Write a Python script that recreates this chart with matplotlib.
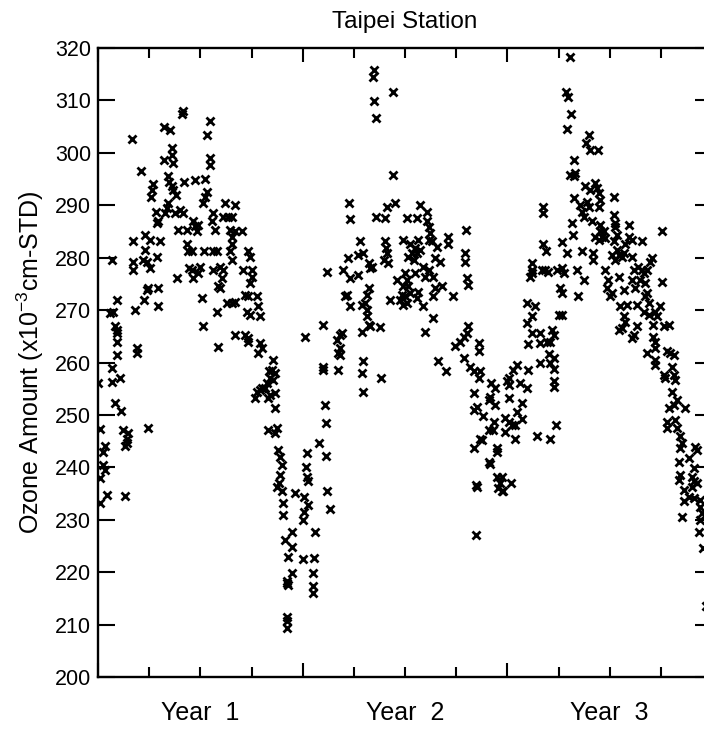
import matplotlib
matplotlib.use("Agg")
import matplotlib.pyplot as plt
from matplotlib.ticker import MultipleLocator

plt.rcParams['font.family'] = ['Liberation Sans', 'DejaVu Sans']
plt.rcParams['mathtext.default'] = 'regular'

# (month since start, ozone amount) pairs
year1_points = [
    (4.95, 307.4), (5.00, 308.0), (6.57, 306.0), (6.37, 303.4), (3.89, 305.0), (4.22, 304.4),
    (2.01, 302.6), (4.32, 300.9), (4.32, 299.6), (4.42, 298.0), (3.89, 298.6), (6.57, 299.0),
    (6.57, 297.7), (2.52, 296.6), (4.09, 295.6), (4.16, 294.5), (5.06, 294.5), (5.69, 294.8),
    (6.28, 295.1), (3.25, 294.1), (3.19, 292.9), (3.11, 291.6), (4.42, 292.9), (4.55, 292.0),
    (4.32, 293.6), (6.37, 292.6), (6.28, 291.6), (6.18, 290.4), (3.38, 288.8), (3.50, 286.9),
    (3.44, 286.6), (3.93, 288.5), (4.03, 289.4), (4.12, 290.4), (4.52, 288.5), (4.81, 289.1),
    (5.00, 288.5), (4.67, 285.3), (5.20, 285.3), (5.59, 286.9), (5.69, 286.0), (5.79, 285.0),
    (5.88, 286.3), (6.76, 288.5), (6.67, 286.9), (6.86, 285.3), (7.45, 290.4), (8.04, 290.1),
    (7.35, 287.8), (7.64, 287.8), (7.84, 287.8), (7.74, 285.3), (7.84, 284.0), (8.43, 285.0),
    (8.04, 285.0), (7.84, 282.7), (2.07, 283.1), (2.76, 284.3), (3.05, 283.4), (3.64, 283.1),
    (2.76, 281.5), (2.66, 279.6), (2.86, 279.2), (3.44, 280.2), (3.05, 278.0), (0.84, 279.6),
    (2.07, 279.2), (2.07, 277.7), (5.20, 282.7), (5.30, 281.2), (5.49, 281.2), (6.24, 281.2),
    (6.76, 281.2), (6.96, 281.2), (5.36, 278.0), (5.49, 277.7), (5.59, 276.1), (5.98, 278.3),
    (5.88, 277.0), (6.76, 277.7), (7.16, 278.3), (7.35, 277.7), (7.25, 276.1), (7.06, 274.5),
    (7.16, 274.2), (7.74, 281.2), (7.84, 279.6), (8.82, 281.2), (8.92, 280.2), (8.52, 277.7),
    (9.01, 277.7), (9.01, 276.4), (8.91, 275.1), (4.61, 276.1), (2.95, 274.2), (2.86, 273.9),
    (3.54, 274.2), (2.72, 271.9), (2.17, 270.0), (3.54, 270.7), (1.09, 271.9), (6.08, 272.3),
    (8.62, 272.9), (8.82, 272.6), (9.31, 272.6), (9.40, 270.7), (7.55, 271.3), (7.84, 271.3),
    (8.04, 271.6), (6.96, 269.7), (8.72, 269.7), (8.92, 269.1), (9.50, 268.8), (0.70, 269.4),
    (0.90, 269.7), (1.00, 266.9), (1.09, 266.2), (1.09, 265.6), (6.18, 266.9), (8.04, 265.3),
    (8.62, 265.3), (8.82, 264.6),
    (1.09, 264.0), (2.27, 262.7), (2.27, 261.8), (1.09, 261.4), (7.06, 262.9), (8.82, 264.0),
    (9.50, 263.7), (9.60, 262.7), (9.40, 261.8), (10.28, 260.5), (0.84, 258.9), (1.29, 257.0),
    (0.80, 256.2), (0.02, 256.0), (10.00, 258.3), (10.19, 258.6), (10.38, 258.0), (10.09, 257.0),
    (10.28, 256.7), (9.89, 256.0), (9.60, 255.1), (9.31, 254.4), (9.21, 253.2), (10.09, 253.8),
    (9.99, 253.2), (10.38, 254.1), (10.38, 251.3), (9.80, 255.1), (9.50, 254.8), (1.00, 252.2),
    (1.35, 250.8), (0.12, 247.3), (1.49, 247.1), (1.78, 246.5), (1.68, 245.5), (1.68, 244.6),
    (1.58, 244.1), (2.95, 247.5), (9.99, 247.1), (10.48, 247.5), (10.38, 246.6), (0.41, 244.0),
    (0.31, 243.0), (0.31, 240.5), (0.41, 239.5), (0.12, 237.9), (0.51, 234.7), (0.12, 233.2),
    (1.58, 234.5), (10.58, 243.3), (10.67, 242.0), (10.77, 240.5), (10.67, 238.5), (10.48, 236.3),
    (10.77, 235.4), (10.60, 237.0), (10.87, 233.2), (10.87, 230.9), (11.55, 235.1), (11.36, 227.7),
    (10.97, 226.2), (11.36, 224.8), (11.16, 222.9), (11.36, 219.8), (11.07, 217.9), (11.16, 217.6),
    (11.10, 218.3), (11.07, 211.5), (11.07, 210.6), (11.07, 209.3),
]

year2_points = [
    (16.19, 315.8), (16.15, 314.5), (17.32, 311.7), (16.19, 309.8), (16.29, 306.6), (17.32, 295.8),
    (14.74, 290.4), (14.78, 287.4), (16.97, 289.7), (17.42, 290.4), (16.31, 287.8), (16.84, 287.5),
    (18.10, 287.5), (18.69, 287.5), (18.89, 290.1), (19.28, 288.8), (19.28, 286.9), (19.38, 285.9),
    (19.47, 284.7), (19.38, 283.4), (19.57, 283.1), (21.59, 285.3), (15.37, 283.1), (15.27, 280.5),
    (15.56, 280.8), (16.84, 283.1), (16.89, 281.8), (16.93, 280.8), (16.74, 279.6), (17.03, 278.9),
    (17.91, 283.4), (18.30, 282.7), (18.60, 281.8), (18.79, 283.4), (18.69, 280.8), (18.50, 279.6),
    (18.20, 280.2), (18.89, 281.5), (18.40, 280.8), (19.87, 282.1), (19.77, 279.9), (20.06, 279.2),
    (20.55, 284.0), (20.55, 282.7), (21.53, 280.8), (21.53, 279.2), (21.63, 276.1), (21.72, 274.8),
    (14.68, 279.9), (13.41, 277.2), (14.39, 277.7), (14.78, 276.1), (15.27, 276.7), (15.86, 278.9),
    (15.96, 278.0), (16.05, 278.3), (17.52, 275.8), (18.00, 277.0), (18.10, 275.8), (18.20, 274.5),
    (17.91, 274.5), (18.60, 277.0), (19.18, 276.4), (19.38, 277.7), (19.08, 278.3), (19.67, 276.4),
    (19.77, 274.2), (19.67, 272.6), (20.16, 274.5), (20.84, 272.6), (15.86, 274.2), (15.76, 272.9),
    (15.66, 271.3), (15.76, 270.0), (15.76, 268.8), (15.86, 267.2), (15.47, 271.0), (14.78, 270.7),
    (14.49, 272.6), (14.59, 272.9), (17.13, 271.9), (17.71, 271.9), (17.91, 271.0), (18.10, 271.3),
    (18.00, 272.6), (17.81, 272.9), (18.30, 273.2), (18.79, 273.5), (18.69, 272.3), (19.08, 270.7),
    (19.67, 268.4), (16.54, 266.7), (15.96, 266.9), (15.47, 265.9), (19.18, 265.9), (12.14, 264.9),
    (13.22, 267.2), (14.00, 264.3), (14.20, 265.3), (14.29, 265.6), (21.23, 264.0), (21.43, 264.9),
    (21.63, 265.6), (21.72, 266.9),
    (14.16, 262.7), (14.10, 261.8), (14.20, 261.4), (13.22, 259.2), (13.22, 258.6), (14.10, 258.5),
    (15.53, 260.2), (15.47, 258.0), (15.56, 254.3), (16.58, 257.0), (13.32, 251.9), (13.37, 248.4),
    (12.98, 244.6), (12.24, 242.8), (13.36, 242.2), (12.20, 240.1), (12.28, 238.2), (12.34, 237.3),
    (13.41, 235.4), (12.05, 234.4), (12.34, 232.8), (12.08, 231.4), (12.00, 230.0), (13.61, 232.0),
    (12.73, 227.6), (12.00, 222.5), (12.67, 222.7), (12.59, 219.8), (12.63, 217.3), (12.63, 216.0),
    (20.94, 263.2), (22.31, 263.7), (22.31, 262.1), (19.96, 260.2), (20.41, 258.3), (21.43, 260.8),
    (21.82, 259.2), (22.02, 258.3), (22.41, 258.3), (22.31, 257.0), (22.02, 254.1), (22.02, 250.9),
    (22.21, 251.6), (22.56, 249.7), (23.03, 256.0), (23.29, 255.1), (22.99, 253.5), (22.90, 252.9),
    (23.29, 251.9), (23.19, 248.7), (23.15, 247.1), (22.90, 247.1), (22.50, 245.2), (22.41, 245.5),
    (22.02, 243.6), (23.38, 243.6), (23.38, 243.0), (22.90, 241.1), (23.00, 240.7), (22.17, 236.6),
    (22.20, 236.2), (23.38, 238.2), (23.58, 237.0), (23.48, 236.0), (23.68, 235.4), (22.17, 227.1),
]

year3_points = [
    (27.65, 318.2), (27.45, 311.7), (27.53, 310.7), (27.74, 307.4), (27.49, 304.5), (28.76, 303.4),
    (28.62, 301.8), (28.86, 300.5), (29.29, 300.5), (27.92, 298.6), (27.69, 295.8), (27.88, 295.5),
    (27.98, 296.1), (28.57, 293.6), (28.86, 292.9), (29.15, 294.2), (29.25, 293.2), (29.35, 292.3),
    (30.23, 291.6), (27.92, 291.3), (28.27, 290.1), (28.66, 290.7), (28.76, 289.7), (29.45, 291.0),
    (29.35, 289.7), (28.37, 288.8), (28.47, 287.8), (28.96, 286.9), (29.45, 286.2), (29.64, 285.0),
    (26.08, 289.7), (26.12, 288.5), (30.23, 288.1), (30.33, 286.6), (30.33, 285.9), (31.11, 286.2),
    (31.11, 284.0), (33.06, 285.0), (27.78, 286.6), (27.84, 284.3), (29.15, 284.0), (29.35, 283.4),
    (29.54, 284.0), (29.74, 283.7), (30.42, 284.3), (30.23, 283.1), (30.91, 282.7), (31.30, 283.4),
    (31.89, 283.1), (29.45, 285.0), (26.08, 282.7), (26.28, 281.3), (27.20, 282.9), (27.49, 280.8),
    (28.37, 281.2), (29.05, 280.8), (29.05, 279.6), (30.13, 280.5), (30.42, 281.5), (30.52, 280.5),
    (30.72, 280.2), (30.82, 280.8), (31.30, 280.2), (30.33, 279.6), (32.48, 279.9), (25.44, 278.9),
    (25.44, 277.7), (25.44, 277.0), (25.34, 276.4), (26.02, 277.7), (26.22, 277.7), (26.41, 277.3),
    (26.90, 277.7), (27.20, 278.0), (27.30, 277.0), (27.10, 274.2), (27.20, 273.2), (28.08, 277.7),
    (28.47, 275.8), (28.17, 272.7), (29.74, 277.7), (29.93, 275.8), (29.84, 274.2), (30.03, 272.6),
    (30.13, 273.2), (30.52, 276.4), (30.82, 273.8), (31.40, 277.7), (31.30, 275.8), (31.50, 274.2),
    (31.69, 278.3), (31.89, 277.7), (31.99, 277.0), (32.18, 277.7), (32.38, 279.2), (31.79, 275.8),
    (32.08, 275.1), (33.06, 275.4), (32.18, 273.2), (32.08, 272.6), (32.28, 271.3), (25.14, 271.3),
    (25.63, 270.7), (25.44, 268.8), (25.14, 267.5), (25.44, 265.6), (25.93, 265.7), (26.61, 266.2),
    (26.71, 265.3), (26.51, 264.0), (27.00, 269.1), (27.20, 269.1), (30.62, 270.7), (31.01, 271.0),
    (30.82, 268.8), (30.91, 267.8), (30.72, 266.6), (30.52, 266.2), (31.60, 271.0), (31.99, 269.7),
    (32.28, 269.1), (32.67, 269.7), (32.77, 268.8), (32.96, 270.7), (32.57, 267.2), (33.16, 266.9),
    (33.45, 267.2), (31.60, 266.9), (31.40, 265.3), (31.30, 264.6), (32.57, 264.9), (32.67, 264.0),
    (25.24, 263.5), (25.93, 263.7), (26.32, 264.0),
    (26.47, 261.6), (26.71, 260.8), (25.93, 260.0), (26.51, 259.9), (26.71, 258.7), (26.71, 256.4),
    (26.71, 255.4), (24.56, 259.5), (24.36, 258.5), (24.07, 257.0), (23.97, 256.4), (24.07, 255.7),
    (24.75, 256.0), (25.14, 255.1), (25.24, 258.6), (24.07, 253.2), (24.85, 252.2), (24.56, 250.6),
    (23.87, 249.4), (24.07, 248.7), (24.26, 248.1), (24.46, 248.1), (24.85, 249.2), (23.87, 246.8),
    (24.46, 245.5), (25.73, 245.9), (26.51, 245.4), (26.86, 248.1), (23.68, 238.2), (23.74, 235.4),
    (24.21, 237.0), (32.18, 261.8), (32.67, 262.7), (32.67, 260.5), (32.67, 259.5), (33.36, 262.1),
    (33.55, 261.8), (33.75, 261.4), (33.65, 259.2), (33.16, 257.6), (33.26, 257.0), (33.75, 257.6),
    (33.84, 256.7), (33.65, 254.4), (33.94, 252.9), (33.45, 251.3), (33.75, 251.9), (34.43, 251.3),
    (33.36, 248.7), (33.36, 247.5), (33.84, 249.0), (33.94, 247.5), (34.14, 245.9), (34.24, 244.6),
    (34.14, 243.6), (35.02, 243.9), (35.11, 243.3), (34.63, 241.7), (34.04, 241.1), (34.92, 239.8),
    (34.14, 238.6), (34.04, 237.6), (34.82, 238.2), (34.92, 237.3), (35.11, 237.0), (34.82, 236.3),
    (34.33, 235.7), (34.63, 234.4), (34.33, 233.5), (34.92, 234.1), (35.31, 233.8), (35.31, 232.5),
    (35.41, 231.2), (35.31, 230.0), (34.24, 230.6), (35.21, 227.7), (35.50, 224.6), (35.65, 213.5),
]

year_labels = ["Year  1", "Year  2", "Year  3"]
year_label_months = [6, 18, 30]
y_ticks = list(range(200, 321, 10))

W, H = 704, 733
fig = plt.figure(figsize=(W / 100, H / 100), dpi=100)
ax = fig.add_axes([98 / W, 1 - 677 / H, (712 - 98) / W, (677 - 48) / H])

for pts in (year1_points, year2_points, year3_points):
    mx = [p[0] for p in pts]
    vy = [p[1] for p in pts]
    ax.plot(mx, vy, linestyle='none', marker='x', color='black',
            markersize=5.5, markeredgewidth=2.0)

ax.set_xlim(0, 36)
ax.set_ylim(200, 320)
ax.set_yticks(y_ticks)
ax.set_xticks([0, 12, 24, 36])
ax.set_xticklabels([])
ax.xaxis.set_minor_locator(MultipleLocator(3))
ax.tick_params(axis='x', which='major', direction='in', length=10, width=1.5,
               top=True, bottom=True)
ax.tick_params(axis='x', which='minor', direction='in', length=7, width=1.5,
               top=True, bottom=True)
ax.tick_params(axis='y', which='major', direction='in', length=12, width=1.5,
               left=True, right=True, labelsize=15.5, pad=5)
for s in ax.spines.values():
    s.set_linewidth(1.7)

for lab, m in zip(year_labels, year_label_months):
    ax.text(m, -0.058, lab, transform=ax.get_xaxis_transform(),
            ha='center', va='center', fontsize=18)

fig.text(405 / W, 1 - 22 / H, "Taipei Station", ha='center', va='center', fontsize=17.5)
fig.text(30 / W, 1 - 362 / H, "Ozone Amount (x10$^{-3}$cm-STD)", rotation=90,
         ha='center', va='center', fontsize=18)

fig.savefig("out.png", dpi=100)
